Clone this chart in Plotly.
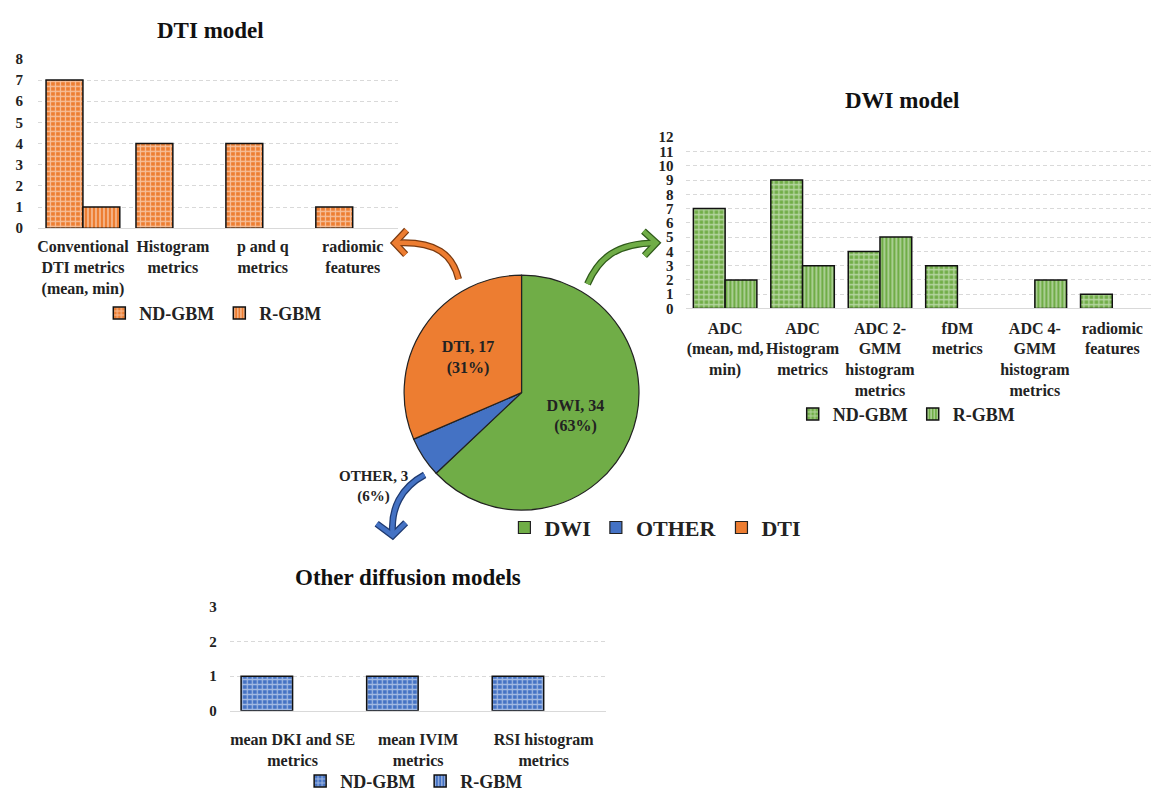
import plotly.graph_objects as go

W, H = 1151, 800


def px(x):
    return x / W


def py(y):
    return 1 - y / H


FONT = "Liberation Serif"
ORANGE = "#ED7D31"
GREEN = "#70AD47"
BLUE = "#4472C4"
GRID = "#d9d9d9"

# ---------------- data ----------------
series_names = ["ND-GBM", "R-GBM"]

dti_cats = ["Conventional<br>DTI metrics<br>(mean, min)", "Histogram<br>metrics",
            "p and q<br>metrics", "radiomic<br>features"]
dti_nd = [7, 4, 4, 1]
dti_r = [1, None, None, None]

dwi_cats = ["ADC<br>(mean, md,<br>min)", "ADC<br>Histogram<br>metrics",
            "ADC 2-<br>GMM<br>histogram<br>metrics", "fDM<br>metrics",
            "ADC 4-<br>GMM<br>histogram<br>metrics", "radiomic<br>features"]
dwi_nd = [7, 9, 4, 3, None, 1]
dwi_r = [2, 3, 5, None, 2, None]

oth_cats = ["mean DKI and SE<br>metrics", "mean IVIM<br>metrics", "RSI histogram<br>metrics"]
oth_nd = [1, 1, 1]
oth_r = [None, None, None]

pie_labels = ["DWI", "OTHER", "DTI"]
pie_values = [34, 3, 17]
pie_colors = [GREEN, BLUE, ORANGE]

fig = go.Figure()


def add_pair(cats, nd, r, color, xa, ya, leg):
    fig.add_trace(go.Bar(
        x=cats, y=nd, name=series_names[0], xaxis=xa, yaxis=ya, legend=leg,
        marker=dict(color=color, line=dict(color="#111111", width=1.5),
                    pattern=dict(shape="+", fgcolor="white", bgcolor=color,
                                 size=5, solidity=0.45, fillmode="overlay")),
    ))
    fig.add_trace(go.Bar(
        x=cats, y=r, name=series_names[1], xaxis=xa, yaxis=ya, legend=leg,
        marker=dict(color=color, line=dict(color="#111111", width=1.5),
                    pattern=dict(shape="|", fgcolor="white", bgcolor=color,
                                 size=4, solidity=0.4, fillmode="overlay")),
    ))


add_pair(dti_cats, dti_nd, dti_r, ORANGE, "x", "y", "legend")
add_pair(dwi_cats, dwi_nd, dwi_r, GREEN, "x2", "y2", "legend2")
add_pair(oth_cats, oth_nd, oth_r, BLUE, "x3", "y3", "legend3")

total = sum(pie_values)
fig.add_trace(go.Pie(
    labels=pie_labels, values=pie_values, sort=False, direction="clockwise",
    rotation=0, legend="legend4",
    domain=dict(x=[px(401), px(641)], y=[py(513), py(273)]),
    marker=dict(colors=pie_colors, line=dict(color="#222222", width=1.2)),
    texttemplate="%{label}, %{value}<br>(%{percent:.0%})",
    textposition=["inside", "none", "inside"],
    insidetextorientation="horizontal",
    textfont=dict(family=FONT, size=16, color="#222222", weight="bold"),
    hoverinfo="label+value+percent",
))

tickfont_x = dict(family=FONT, size=16, color="#222222", weight="bold")
tickfont_y = dict(family=FONT, size=15, color="#222222", weight="bold")


def xaxis(dom, anchor, standoff):
    return dict(domain=dom, anchor=anchor, showline=True, linecolor=GRID, linewidth=1,
                ticks="", tickfont=tickfont_x, ticklabelstandoff=standoff,
                showgrid=False, fixedrange=True)


def yaxis(dom, anchor, rng, font, standoff):
    return dict(domain=dom, anchor=anchor, range=rng, dtick=1, showgrid=True,
                gridcolor=GRID, griddash="4px,3px", gridwidth=1, zeroline=False,
                showline=False, ticks="", tickfont=font, ticklabelstandoff=standoff,
                fixedrange=True)


legend_common = dict(orientation="h", xanchor="center", yanchor="middle",
                     bgcolor="rgba(0,0,0,0)", itemwidth=30,
                     font=dict(family=FONT, size=18, color="#222222", weight="bold"))

title_font = dict(family=FONT, size=23, color="#111111", weight="bold")


def P(x, y):
    return f"{px(x):.5f},{py(y):.5f}"


# curved arrows (decoration)
arrows = [
    (ORANGE, "#7a3a10",
     f"M {P(458,277)} C {P(452,252)} {P(436,238)} {P(396,240)}",
     f"M {P(406,227)} L {P(394,240)} L {P(405,252)}"),
    (GREEN, "#2f5a1a",
     f"M {P(587,282)} C {P(598,256)} {P(616,240)} {P(655,240)}",
     f"M {P(643,228)} L {P(656,240)} L {P(644,253)}"),
    (BLUE, "#1f3a70",
     f"M {P(424,477)} C {P(400,490)} {P(390,512)} {P(392,537)}",
     f"M {P(376,527)} L {P(392,539)} L {P(405,526)}"),
]
shapes = []
for col, dark, body, head in arrows:
    for d in (body, head):
        shapes.append(dict(type="path", path=d, xref="paper", yref="paper",
                           line=dict(color=dark, width=7), layer="above"))
    for d in (body, head):
        shapes.append(dict(type="path", path=d, xref="paper", yref="paper",
                           line=dict(color=col, width=4.5), layer="above"))

other_pct = round(100 * pie_values[1] / total)
annotations = [
    dict(text="DTI model", x=px(210), y=py(23), xref="paper", yref="paper",
         showarrow=False, font=title_font, xanchor="center", yanchor="middle"),
    dict(text="DWI model", x=px(902), y=py(95), xref="paper", yref="paper",
         showarrow=False, font=title_font, xanchor="center", yanchor="middle"),
    dict(text="Other diffusion models", x=px(407), y=py(582), xref="paper", yref="paper",
         showarrow=False, font=title_font, xanchor="center", yanchor="middle"),
    dict(text=f"{pie_labels[1]}, {pie_values[1]}<br>({other_pct}%)", x=px(373), y=py(489),
         xref="paper", yref="paper", showarrow=False, xanchor="center", yanchor="middle",
         font=dict(family=FONT, size=15, color="#222222", weight="bold")),
]

fig.update_layout(
    width=W, height=H, margin=dict(l=0, r=0, t=0, b=0),
    paper_bgcolor="white", plot_bgcolor="white",
    barmode="group", bargap=0.18, bargroupgap=0,
    font=dict(family=FONT, color="#222222"),
    xaxis=xaxis([px(37), px(397)], "y", 4),
    yaxis=yaxis([py(225), py(52)], "x", [0, 8], tickfont_y, 14),
    xaxis2=xaxis([px(686), px(1151)], "y2", 5),
    yaxis2=yaxis([py(307), py(132)], "x2", [0, 12], tickfont_y, 12),
    xaxis3=xaxis([px(229), px(606)], "y3", 14),
    yaxis3=yaxis([py(718), py(612)], "x3", [0, 3], tickfont_y, 12),
    legend=dict(legend_common, x=px(212), y=py(312)),
    legend2=dict(legend_common, x=px(906), y=py(415)),
    legend3=dict(legend_common, x=px(413), y=py(790)),
    legend4=dict(legend_common, x=px(655), y=py(531),
                 font=dict(family=FONT, size=22, color="#222222", weight="bold")),
    shapes=shapes,
    annotations=annotations,
    showlegend=True,
)

fig.write_html("out.html")
